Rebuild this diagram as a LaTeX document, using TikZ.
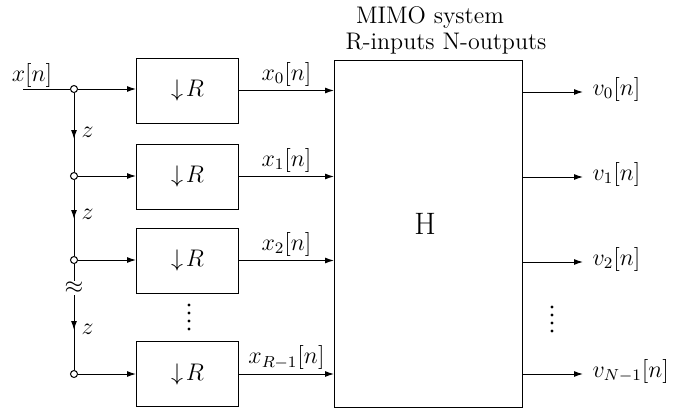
\documentclass[tikz,border=0pt]{standalone}
\usetikzlibrary{arrows.meta,calc}
\begin{document}
\begin{tikzpicture}[x=0.5pt,y=-0.5pt,
  font=\fontsize{12}{14.5}\selectfont,
  line width=0.5pt,
  >={Latex[length=4.5pt,width=3pt]},
  dbox/.style={draw,minimum width=51pt,minimum height=32.5pt,inner sep=0pt},
  junc/.style={circle,draw,fill=white,inner sep=0pt,minimum size=3.5pt},
  lbl/.style={inner sep=1pt},
  dot/.style={circle,fill,inner sep=0pt,minimum size=1.6pt}]
\useasboundingbox (0,0) rectangle (675,413);
% boxes
\node[dbox] (b0) at (187.5,90.5) {$\downarrow\! R$};
\node[dbox] (b1) at (187.5,176.5) {$\downarrow\! R$};
\node[dbox] (b2) at (187.5,260.5) {$\downarrow\! R$};
\node[dbox] (b3) at (187.5,374) {$\downarrow\! R$};
\foreach \y [count=\i] in {305,313,321,329} \node[dot] (bd\i) at (189,\y) {};
% H
\node[draw,minimum width=94pt,minimum height=173.5pt,inner sep=0pt] (H) at (428.5,233.5) {};
\node[font=\fontsize{15.5}{18}\selectfont,inner sep=0pt] (Hl) at (425,224) {H};
\node[inner sep=0pt] (t1) at (430,17) {MIMO system};
\node[inner sep=0pt] (t2) at (446,44) {R-inputs N-outputs};
% input
\coordinate (xin) at (23,89);
\node[lbl] (xl) at (32,75) {$x[n]$};
\node[junc] (j0) at (74,89) {};
\node[junc] (j1) at (74,176) {};
\node[junc] (j2) at (74,260) {};
\node[junc] (j3) at (74,374) {};
\node[fill=white,inner sep=0.5pt] (ap) at (74,288) {$\approx$};
\draw (xin) -- (j0);
\draw (j0) -- (j1);
\draw (j1) -- (j2);
\draw (j2) -- (ap);
\draw (ap) -- (j3);
\draw[->] (j0) -- (74,139);
\draw[->] (j1) -- (74,219);
\draw[->] (ap) -- (74,330);
\node[anchor=west,lbl] (z0) at (79,132) {$z$};
\node[anchor=west,lbl] (z1) at (79,214) {$z$};
\node[anchor=west,lbl] (z2) at (79,329) {$z$};
\draw[->] (j0) -- (b0.west |- j0);
\draw[->] (j1) -- (b1.west |- j1);
\draw[->] (j2) -- (b2.west |- j2);
\draw[->] (j3) -- (b3.west |- j3);
% to H
\draw[->] (b0) -- (b0 -| H.west) node[pos=0.5,above=1pt,lbl] (x0) {$x_0[n]$};
\draw[->] (b1) -- (b1 -| H.west) node[pos=0.5,above=1pt,lbl] (x1) {$x_1[n]$};
\draw[->] (b2) -- (b2 -| H.west) node[pos=0.5,above=1pt,lbl] (x2) {$x_2[n]$};
\draw[->] (b3) -- (b3 -| H.west) node[pos=0.5,above=1pt,lbl] (x3) {$x_{R-1}[n]$};
% outputs
\coordinate (o0) at (583,92);
\coordinate (o1) at (583,177);
\coordinate (o2) at (583,262);
\coordinate (o3) at (583,374);
\draw[->] (H.east |- o0) -- (o0);
\draw[->] (H.east |- o1) -- (o1);
\draw[->] (H.east |- o2) -- (o2);
\draw[->] (H.east |- o3) -- (o3);
\node[anchor=west,lbl] (v0) at (590,89) {$v_0[n]$};
\node[anchor=west,lbl] (v1) at (590,174) {$v_1[n]$};
\node[anchor=west,lbl] (v2) at (590,259) {$v_2[n]$};
\node[anchor=west,lbl] (v3) at (590,371) {$v_{N-1}[n]$};
\foreach \y [count=\i] in {307,315,323,331} \node[dot] (vd\i) at (552,\y) {};
\end{tikzpicture}
\end{document}
